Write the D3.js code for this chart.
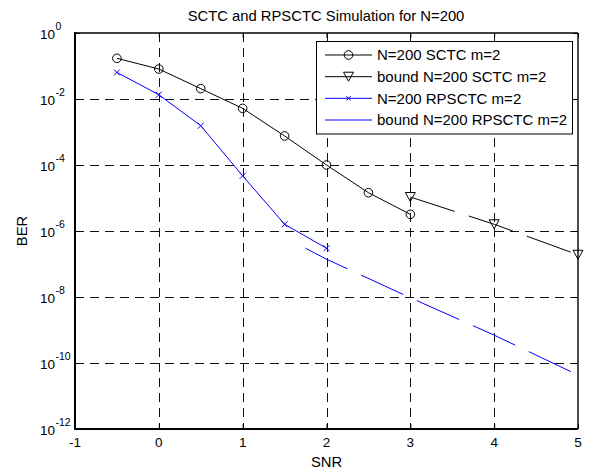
<!DOCTYPE html>
<html>
<head>
<meta charset="utf-8">
<script src="https://cdn.jsdelivr.net/npm/d3@7"></script>
<style>
  html, body { margin: 0; padding: 0; background: #fff; }
  svg { display: block; font-family: "Liberation Sans", Arial, sans-serif; }
</style>
</head>
<body>
<svg id="chart" width="595" height="469"></svg>
<script>
// ---- data ----
const snrSim = [-0.5, 0, 0.5, 1, 1.5, 2, 2.5, 3];
const berSctc = [0.171, 0.081, 0.0206, 0.0052, 7.6e-4, 1.0e-4, 1.45e-5, 3.2e-6];

const snrSctcBound = [3, 4, 5];
const berSctcBound = [1.07e-5, 1.6e-6, 1.9e-7];

const snrRp = [-0.5, 0, 0.5, 1, 1.5, 2];
const berRp = [0.064, 0.0135, 0.00155, 4.7e-5, 1.6e-6, 3.0e-7];

const snrRpBound = [1.75, 2, 3, 4, 5];
const berRpBound = [3.0e-7, 1.4e-7, 9.5e-9, 7.0e-10, 4.3e-11];

const xTicks = [-1, 0, 1, 2, 3, 4, 5];
const yTickExps = [0, -2, -4, -6, -8, -10, -12];

const legendLabels = ["N=200 SCTC m=2", "bound N=200 SCTC m=2", "N=200 RPSCTC m=2", "bound N=200 RPSCTC m=2"];
const titleText = "SCTC and RPSCTC Simulation for N=200";

// ---- layout ----
const L = 75, R = 578, T = 33, B = 429;
const svg = d3.select("#chart");
const x = d3.scaleLinear().domain([-1, 5]).range([L, R]);
const y = d3.scaleLog().domain([1e-12, 1]).range([B, T]);

// grid
const grid = svg.append("g").attr("stroke", "#111").attr("stroke-width", 1).attr("stroke-dasharray", "9,6");
xTicks.slice(1, -1).forEach(t => {
  grid.append("line").attr("x1", Math.round(x(t)) + 0.5).attr("x2", Math.round(x(t)) + 0.5)
    .attr("y1", T).attr("y2", B);
});
yTickExps.slice(1, -1).forEach(e => {
  grid.append("line").attr("y1", Math.round(y(Math.pow(10, e))) + 0.5).attr("y2", Math.round(y(Math.pow(10, e))) + 0.5)
    .attr("x1", L).attr("x2", R);
});

// axes via d3 axes (ticks inside)
const tickLen = 5;
const xAxisB = d3.axisTop(x).tickValues(xTicks).tickSize(tickLen).tickFormat("");
const xAxisT = d3.axisBottom(x).tickValues(xTicks).tickSize(tickLen).tickFormat("");
const yVals = yTickExps.map(e => Math.pow(10, e));
const yAxisL = d3.axisRight(y).tickValues(yVals).tickSize(tickLen).tickFormat("");
const yAxisR = d3.axisLeft(y).tickValues(yVals).tickSize(tickLen).tickFormat("");
function styleAxis(g) {
  g.select(".domain").remove();
  g.selectAll(".tick line").attr("stroke", "#000").attr("stroke-width", 1);
}
svg.append("g").attr("transform", `translate(0,${B})`).call(xAxisB).call(styleAxis);
svg.append("g").attr("transform", `translate(0,${T})`).call(xAxisT).call(styleAxis);
svg.append("g").attr("transform", `translate(${L},0)`).call(yAxisL).call(styleAxis);
svg.append("g").attr("transform", `translate(${R},0)`).call(yAxisR).call(styleAxis);

// box
svg.append("line").attr("x1", L).attr("x2", R).attr("y1", T).attr("y2", T).attr("stroke", "#000").attr("stroke-width", 1.4);
svg.append("line").attr("x1", R).attr("x2", R).attr("y1", T).attr("y2", B).attr("stroke", "#000").attr("stroke-width", 1.4);
svg.append("line").attr("x1", L).attr("x2", R).attr("y1", B).attr("y2", B).attr("stroke", "#000").attr("stroke-width", 2);
svg.append("line").attr("x1", L).attr("x2", L).attr("y1", T - 1).attr("y2", B + 1).attr("stroke", "#000").attr("stroke-width", 2);

// tick labels
const xl = svg.append("g").attr("font-size", "13.5px").attr("fill", "#000").attr("text-anchor", "middle");
xTicks.forEach(t => xl.append("text").attr("x", x(t)).attr("y", B + 18).text(t));

const yl = svg.append("g").attr("fill", "#000");
yTickExps.forEach(e => {
  const yy = y(Math.pow(10, e));
  yl.append("text").attr("x", 55).attr("y", yy + 6).attr("text-anchor", "end").attr("font-size", "13.5px").text("10");
  yl.append("text").attr("x", 55.5).attr("y", yy - 3.5).attr("font-size", "10.5px").text(e);
});

// labels
svg.append("text").attr("x", (L + R) / 2).attr("y", 466.5).attr("text-anchor", "middle").attr("font-size", "14.8px").text("SNR");
svg.append("text").attr("transform", `translate(26.5,${(T + B) / 2}) rotate(-90)`).attr("text-anchor", "middle").attr("font-size", "14.8px").text("BER");
svg.append("text").attr("x", 326).attr("y", 21).attr("text-anchor", "middle").attr("font-size", "14.8px").text(titleText);

// series
const line = d3.line().x(d => x(d[0])).y(d => y(d[1]));
const plot = svg.append("g");
const zip = (a, b) => a.map((v, i) => [v, b[i]]);

const dSctc = zip(snrSim, berSctc);
const dSctcB = zip(snrSctcBound, berSctcBound);
const dRp = zip(snrRp, berRp);
const dRpB = zip(snrRpBound, berRpBound);
const dash = "46.5,15";

plot.append("path").datum(dSctc).attr("d", line).attr("fill", "none").attr("stroke", "#000").attr("stroke-width", 1);
plot.append("path").datum(dSctcB).attr("d", line).attr("fill", "none").attr("stroke", "#000").attr("stroke-width", 1).attr("stroke-dasharray", dash);
plot.append("path").datum(dRp).attr("d", line).attr("fill", "none").attr("stroke", "#0000ff").attr("stroke-width", 1);
plot.append("path").datum(dRpB).attr("d", line).attr("fill", "none").attr("stroke", "#0000ff").attr("stroke-width", 1).attr("stroke-dasharray", dash);

function circleMarker(g, cx, cy, color) {
  g.append("circle").attr("cx", cx).attr("cy", cy).attr("r", 4.3).attr("fill", "none").attr("stroke", color).attr("stroke-width", 1);
}
function triMarker(g, cx, cy, color) {
  const w = 5, h = 4.5;
  g.append("path").attr("d", `M${cx - w},${cy - h}L${cx + w},${cy - h}L${cx},${cy + h}Z`)
    .attr("fill", "none").attr("stroke", color).attr("stroke-width", 1);
}
function xMarker(g, cx, cy, color, s) {
  g.append("path").attr("d", `M${cx - s},${cy - s}L${cx + s},${cy + s}M${cx - s},${cy + s}L${cx + s},${cy - s}`)
    .attr("fill", "none").attr("stroke", color).attr("stroke-width", 1);
}
dSctc.forEach(d => circleMarker(plot, x(d[0]), y(d[1]), "#000"));
dSctcB.forEach(d => triMarker(plot, x(d[0]), y(d[1]), "#000"));
dRp.forEach(d => xMarker(plot, x(d[0]), y(d[1]), "#0000ff", 3));

// legend
const lg = svg.append("g");
lg.append("rect").attr("x", 316.5).attr("y", 41.5).attr("width", 256).attr("height", 92.5)
  .attr("fill", "#fff").attr("stroke", "#000").attr("stroke-width", 1);
const rowsY = [55, 76.7, 98.3, 120];
const colors = ["#000", "#000", "#0000ff", "#0000ff"];
legendLabels.forEach((lab, i) => {
  const yy = rowsY[i];
  lg.append("line").attr("x1", 325).attr("x2", 372).attr("y1", yy).attr("y2", yy)
    .attr("stroke", colors[i]).attr("stroke-width", 1);
  if (i === 0) circleMarker(lg, 348.5, yy, colors[i]);
  if (i === 1) triMarker(lg, 348.5, yy, colors[i]);
  if (i === 2) xMarker(lg, 348.5, yy, colors[i], 2.2);
  lg.append("text").attr("x", 377).attr("y", yy + 5.2).attr("font-size", "15px").attr("fill", "#000").text(lab);
});
</script>
</body>
</html>
